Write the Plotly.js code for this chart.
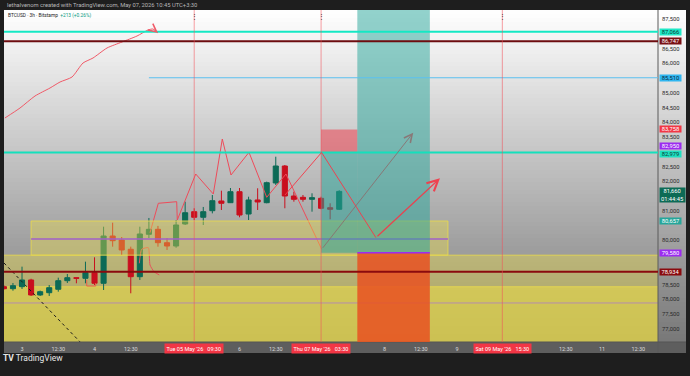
<!DOCTYPE html>
<html><head><meta charset="utf-8">
<script src="https://cdn.plot.ly/plotly-3.0.1.min.js"></script>
<style>html,body{margin:0;padding:0;background:#1e1e1e;}#chart{width:690px;height:376px;}</style>
</head><body><div id="chart"></div>
<script>
// ---------- candle data (BTCUSD 3h, Bitstamp) ----------
const candleTimes = [
 '2026-05-02 18:30','2026-05-02 21:30',
 '2026-05-03 00:30','2026-05-03 03:30','2026-05-03 06:30','2026-05-03 09:30','2026-05-03 12:30','2026-05-03 15:30','2026-05-03 18:30','2026-05-03 21:30',
 '2026-05-04 00:30','2026-05-04 03:30','2026-05-04 06:30','2026-05-04 09:30','2026-05-04 12:30','2026-05-04 15:30','2026-05-04 18:30','2026-05-04 21:30',
 '2026-05-05 00:30','2026-05-05 03:30','2026-05-05 06:30','2026-05-05 09:30','2026-05-05 12:30','2026-05-05 15:30','2026-05-05 18:30','2026-05-05 21:30',
 '2026-05-06 00:30','2026-05-06 03:30','2026-05-06 06:30','2026-05-06 09:30','2026-05-06 12:30','2026-05-06 15:30','2026-05-06 18:30','2026-05-06 21:30',
 '2026-05-07 00:30','2026-05-07 03:30','2026-05-07 06:30','2026-05-07 09:30'];
const openP  = [78432,78364, 78432,78659,78151,78228,78344,78635,78737,78716, 78906,78547,80149,80014,79699,78770,80207,80376, 79922,79810,80556,80972,80783,81006,81335,81277, 81650,80894,81369,81277,81945,82520,81504,81460, 81392,81426,81108,81054];
const highP  = [78480,78557, 79110,78700,78300,78489,78737,78862,78745,79279, 79427,80464,80600,80115,79787,80464,80760,80490, 80081,80691,81311,81088,81132,81538,81684,81775, 81775,81480,81765,81990,82835,82554,81650,81538, 81596,81480,81257,81700];
const lowP   = [78330,78296, 78354,78117,78117,78117,78262,78557,78547,78547, 78489,78320,79787,79505,78208,78659,80081,79787, 79675,79750,80522,80691,80522,80915,81030,81267, 80783,80691,81030,81257,81877,81088,81311,81311, 80972,81054,80715,81030];
const closeP = [78364,78466, 78659,78151,78262,78398,78635,78737,78716,78906, 78547,80149,79990,79675,78770,80217,80376,79922, 79810,80522,80938,80783,80972,81345,81257,81650, 80860,81369,81301,81955,82520,81504,81392,81392, 81447,81088,81054,81660];

// ---------- axes (only the tick labels that are visible in the reference) ----------
const priceTicks = [77000,77500,78000,78500,80000,81000,82000,82500,83500,84000,84500,85000,86000,86500,87500];
const priceTickText = ['77,000','77,500','78,000','78,500','80,000','81,000','82,000','82,500','83,500','84,000','84,500','85,000','86,000','86,500','87,500'];
const timeTicks = ['2026-05-03 00:30','2026-05-03 12:30','2026-05-04 00:30','2026-05-04 12:30','2026-05-06 00:30','2026-05-06 12:30','2026-05-08 00:30','2026-05-08 12:30','2026-05-09 00:30','2026-05-10 12:30','2026-05-11 00:30','2026-05-11 12:30'];
const timeTickText = ['3','12:30','4','12:30','6','12:30','8','12:30','9','12:30','11','12:30'];
const markerTimes = ['2026-05-05 09:30','2026-05-07 03:30','2026-05-09 15:30'];
const markerLabels = ["Tue 05 May '26&nbsp;&nbsp;&nbsp;09:30","Thu 07 May '26&nbsp;&nbsp;&nbsp;03:30","Sat 09 May '26&nbsp;&nbsp;&nbsp;15:30"];

// ---------- horizontal levels ----------
const levelPrices = [87066, 86747, 85510, 82979, 78934];
const levelStarts = ['2026-05-02 12:00','2026-05-02 12:00','2026-05-04 18:30','2026-05-02 12:00','2026-05-02 12:00'];
const levelColors = ['#14e8c4','#6e0d10','#5bc0f0','#14e0bc','#8a0a0e'];
const levelWidths = [2,2,1,2,2];

// price-axis labels
const axisLabelPrices = [87066, 86747, 85510, 83758, 82950, 82979, 81660, 80657, 79580, 78934];
const axisLabelTexts = ['87,066','86,747','85,510','83,758','82,950','82,979','81,660<br>01:44:45','80,657','79,580','78,934'];
const axisLabelBg = ['#1ee8c6','#7a1014','#2fb6f0','#f23645','#9c2bf0','#1ee0c0','#0d6b55','#26a69a','#9c2bf0','#8a0a0e'];
const axisLabelFg = ['#0b3b36','#ffffff','#0b2b3b','#ffffff','#ffffff','#0b3b36','#ffffff','#ffffff','#ffffff','#ffffff'];
const axisLabelShift = [0,0,0,0,7.5,-2,-3.5,0,0,0];

// zones
const zoneAStart = '2026-05-03 03:30', zoneAEnd = '2026-05-08 21:30';
const zoneATop = 80657, zoneAMid = 80050, zoneABottom = 79500;
const zoneBTop = 79500, zoneCTop = 78430, lowLine = 77880;

// position tools
const shortStart = '2026-05-07 03:30', shortEnd = '2026-05-07 15:30';
const shortEntry = 82979, shortStop = 83758, shortTarget = 79580;
const longStart = '2026-05-07 15:30', longEnd = '2026-05-08 15:30';
const longEntry = 79580, longTarget = 88500, longStop = 76000;

// drawings
const arcTimes = ['2026-05-02 18:50','2026-05-02 23:50','2026-05-03 04:48','2026-05-03 09:46','2026-05-03 13:05','2026-05-03 17:03','2026-05-03 20:41','2026-05-04 00:00','2026-05-04 04:38','2026-05-04 09:36','2026-05-04 14:34','2026-05-04 18:12','2026-05-04 19:52'];
const arcPrices = [84146,84485,84892,85163,85366,85535,86009,86179,86518,86721,86924,87127,87161];
const arcEndTime = '2026-05-04 21:31', arcEndPrice = 87026;

const zigTimes = ['2026-05-04 18:52','2026-05-04 21:37','2026-05-05 03:42','2026-05-05 03:54','2026-05-05 10:00','2026-05-05 15:49','2026-05-05 18:48','2026-05-05 21:41','2026-05-06 03:38','2026-05-06 09:30','2026-05-06 15:53','2026-05-07 03:42'];
const zigPrices = [80261,81257,81311,80691,82249,81572,83435,82215,82984,81460,82249,79699];
const zigEndTime = '2026-05-08 10:00', zigEndPrice = 83648;

const pathTimes = ['2026-05-06 15:33','2026-05-07 03:40','2026-05-07 21:40','2026-05-08 18:51'];
const pathPrices = [81538,82979,80092,82104];

const curlTimes = ['2026-05-04 15:20','2026-05-04 16:07','2026-05-04 18:19','2026-05-04 18:52','2026-05-04 20:12','2026-05-04 21:57'];
const curlPrices = [79224,79699,79753,79167,78940,78828];

const bracketTimes = ['2026-05-03 21:55','2026-05-03 21:55','2026-05-04 00:54','2026-05-04 00:54'];
const bracketPrices = [78659,78455,78455,78557];

const diagTimes = ['2026-05-02 18:32','2026-05-03 20:22'];
const diagPrices = [79234,76491];

// ---------- build ----------
const X0 = '2026-05-02 18:32', X1 = '2026-05-11 19:02';
const Y0 = 76558, Y1 = 87805;
const AX = 1 + 28/654; // price axis right edge in paper units
const RED = 'rgba(242,60,75,0.95)';

const shapes = [];
// background gradient (plot + price axis), overlapping strips to avoid seams
const N = 83;
for (let i = 0; i < N; i++) {
  const t = (i + 0.5) / N;
  const v = Math.round(255 - t * 135);
  shapes.push({type:'rect', xref:'paper', yref:'paper', x0:0, x1:AX, y0:Math.max(0, 1 - (i+1.6)/N), y1:1 - i/N,
    fillcolor:`rgb(${v},${v},${v})`, line:{width:0}, layer:'below'});
}
// time axis strip
shapes.push({type:'rect', xref:'paper', yref:'paper', x0:0, x1:AX, y0:-11/332, y1:0, fillcolor:'#5e5e5e', line:{width:0}, layer:'below'});
// separators
shapes.push({type:'line', xref:'paper', yref:'paper', x0:1, x1:1, y0:-11/332, y1:1, line:{color:'#5a5a5a', width:1}, layer:'above'});
shapes.push({type:'line', xref:'paper', yref:'paper', x0:0, x1:AX, y0:0, y1:0, line:{color:'#555', width:1}, layer:'above'});

// lower yellow zones (below candles)
shapes.push({type:'rect', xref:'x', yref:'y', x0:X0, x1:X1, y0:Y0 - 500, y1:zoneBTop, fillcolor:'rgba(235,220,70,0.40)', line:{width:0}, layer:'below'});
shapes.push({type:'rect', xref:'x', yref:'y', x0:X0, x1:X1, y0:Y0 - 500, y1:zoneCTop, fillcolor:'rgba(235,220,70,0.55)', line:{width:0}, layer:'below'});
shapes.push({type:'line', xref:'x', yref:'y', x0:X0, x1:X1, y0:zoneBTop, y1:zoneBTop, line:{color:'rgba(230,215,80,0.9)', width:1}, layer:'below'});
shapes.push({type:'line', xref:'x', yref:'y', x0:X0, x1:X1, y0:zoneCTop, y1:zoneCTop, line:{color:'rgba(230,215,80,0.9)', width:1}, layer:'below'});
shapes.push({type:'line', xref:'x', yref:'y', x0:X0, x1:X1, y0:lowLine, y1:lowLine, line:{color:'rgba(170,120,210,0.7)', width:1}, layer:'below'});

// zone A (above candles)
shapes.push({type:'rect', xref:'x', yref:'y', x0:zoneAStart, x1:zoneAEnd, y0:zoneABottom, y1:zoneATop, fillcolor:'rgba(235,220,70,0.40)', line:{color:'rgba(230,215,80,0.9)', width:1}, layer:'above'});
shapes.push({type:'line', xref:'x', yref:'y', x0:zoneAStart, x1:zoneAEnd, y0:zoneAMid, y1:zoneAMid, line:{color:'#a060c8', width:1.5}, layer:'above'});

// position tools
shapes.push({type:'rect', xref:'x', yref:'y', x0:shortStart, x1:shortEnd, y0:shortEntry, y1:shortStop, fillcolor:'rgba(242,54,69,0.5)', line:{width:0}, layer:'above'});
shapes.push({type:'rect', xref:'x', yref:'y', x0:shortStart, x1:shortEnd, y0:shortTarget, y1:shortEntry, fillcolor:'rgba(38,166,154,0.5)', line:{width:0}, layer:'above'});
shapes.push({type:'rect', xref:'x', yref:'y', x0:longStart, x1:longEnd, y0:longEntry, y1:longTarget, fillcolor:'rgba(38,166,154,0.5)', line:{width:0}, layer:'above'});
shapes.push({type:'rect', xref:'x', yref:'y', x0:longStart, x1:longEnd, y0:longStop, y1:longEntry, fillcolor:'rgba(232,82,34,0.86)', line:{width:0}, layer:'above'});
shapes.push({type:'line', xref:'x', yref:'y', x0:longStart, x1:longEnd, y0:longEntry, y1:longEntry, line:{color:'#9c2bf0', width:1.5}, layer:'above'});

// horizontal levels
levelPrices.forEach((p, i) => {
  shapes.push({type:'line', xref:'x', yref:'y', x0:levelStarts[i], x1:X1, y0:p, y1:p, line:{color:levelColors[i], width:levelWidths[i]}, layer:'above'});
});
// vertical time markers
markerTimes.forEach(t => {
  shapes.push({type:'line', xref:'x', yref:'paper', x0:t, x1:t, y0:0, y1:1, line:{color:'rgba(242,80,90,0.55)', width:1}, layer:'above'});
});
// second projected path (on top)
for (let i = 0; i < 2; i++) {
  shapes.push({type:'line', xref:'x', yref:'y', x0:pathTimes[i], x1:pathTimes[i+1], y0:pathPrices[i], y1:pathPrices[i+1], line:{color:RED, width:1}, layer:'above'});
}

const traces = [
  {type:'candlestick', x:candleTimes, open:openP, high:highP, low:lowP, close:closeP,
   increasing:{line:{color:'#0c6a56', width:1}, fillcolor:'#0c6a56'},
   decreasing:{line:{color:'#c90f1e', width:1}, fillcolor:'#c90f1e'},
   whiskerwidth:0, hoverinfo:'skip', showlegend:false},
  {type:'scatter', mode:'lines', x:arcTimes.concat([arcEndTime]), y:arcPrices.concat([arcEndPrice]), line:{color:'#f05a68', width:1, shape:'spline', smoothing:0.6}, hoverinfo:'skip'},
  {type:'scatter', mode:'lines', x:zigTimes, y:zigPrices, line:{color:'#ee4b5a', width:1}, hoverinfo:'skip'},
  {type:'scatter', mode:'lines', x:curlTimes, y:curlPrices, line:{color:'#e8505c', width:1, shape:'spline', smoothing:0.5}, hoverinfo:'skip'},
  {type:'scatter', mode:'lines', x:bracketTimes, y:bracketPrices, line:{color:'#e8604a', width:1}, hoverinfo:'skip'},
  {type:'scatter', mode:'lines', x:diagTimes, y:diagPrices, line:{color:'#1a1a1a', width:1, dash:'dot'}, hoverinfo:'skip'}
];

const F = 'Roboto, "Noto Sans", sans-serif';
const annotations = [];
// arrow heads / final segments
annotations.push({x:arcEndTime, y:arcEndPrice, ax:arcTimes[arcTimes.length-1], ay:arcPrices[arcPrices.length-1], xref:'x', yref:'y', axref:'x', ayref:'y', text:'', showarrow:true, arrowhead:5, arrowsize:1.6, arrowwidth:1, arrowcolor:'#f05a68', standoff:0});
annotations.push({x:zigEndTime, y:zigEndPrice, ax:zigTimes[zigTimes.length-1], ay:zigPrices[zigPrices.length-1], xref:'x', yref:'y', axref:'x', ayref:'y', text:'', showarrow:true, arrowhead:5, arrowsize:1.6, arrowwidth:1, arrowcolor:'rgba(140,110,110,0.85)', standoff:0});
annotations.push({x:pathTimes[3], y:pathPrices[3], ax:pathTimes[2], ay:pathPrices[2], xref:'x', yref:'y', axref:'x', ayref:'y', text:'', showarrow:true, arrowhead:5, arrowsize:1.8, arrowwidth:1.2, arrowcolor:RED, standoff:0});

// price axis labels
axisLabelPrices.forEach((p, i) => {
  annotations.push({x:1, xref:'paper', y:p, yref:'y', xanchor:'left', yanchor:'middle', xshift:1, yshift:axisLabelShift[i],
    text:axisLabelTexts[i], showarrow:false, bgcolor:axisLabelBg[i], borderpad:0, width: i === 6 ? 25 : 21, align:'center',
    font:{family:F, size:5.8, color:axisLabelFg[i]}});
});
// time markers on the time axis + small handles at the top of the vertical lines
markerTimes.forEach((t, i) => {
  annotations.push({x:t, xref:'x', y:0, yref:'paper', yanchor:'top', yshift:-1, text:markerLabels[i], showarrow:false,
    bgcolor:'#f23645', borderpad:1.5, font:{family:F, size:5.5, color:'#ffffff'}});
  annotations.push({x:t, xref:'x', y:1, yref:'paper', yanchor:'top', yshift:-1, text:'⋮', showarrow:false,
    font:{family:F, size:7, color:'#3a3a3a'}});
});
// header texts
annotations.push({x:0, xref:'paper', y:1, yref:'paper', xanchor:'left', yanchor:'middle', xshift:1, yshift:5,
  text:'lethalvenom created with TradingView.com, May 07, 2026 10:45 UTC+3:30', showarrow:false, font:{family:F, size:5.8, color:'#b8b8b8'}});
annotations.push({x:0, xref:'paper', y:1, yref:'paper', xanchor:'left', yanchor:'middle', xshift:2, yshift:-5,
  text:'BTCUSD · 3h · Bitstamp&nbsp;&nbsp;<span style="color:#089981">+213 (+0.26%)</span>', showarrow:false, font:{family:F, size:4.8, color:'#222'}});
annotations.push({x:0, xref:'paper', y:0, yref:'paper', xanchor:'left', yanchor:'middle', xshift:-3, yshift:-16,
  text:'<b>TV</b> TradingView', showarrow:false, font:{family:F, size:8.5, color:'#e6e6e6'}});

const layout = {
  width:690, height:376,
  margin:{l:4, r:32, t:10, b:34, pad:0},
  paper_bgcolor:'#1e1e1e', plot_bgcolor:'rgba(0,0,0,0)',
  showlegend:false, dragmode:false, boxgap:0.2,
  xaxis:{type:'date', range:[X0, X1], rangeslider:{visible:false}, showgrid:false, zeroline:false,
    tickmode:'array', tickvals:timeTicks, ticktext:timeTickText, ticks:'', ticklabelstandoff:2,
    tickfont:{family:F, size:5.5, color:'#dadada'}, showline:false, fixedrange:true},
  yaxis:{range:[Y0, Y1], side:'right', showgrid:false, zeroline:false, tickmode:'array', tickvals:priceTicks, ticktext:priceTickText,
    ticks:'', ticklabelstandoff:3, tickfont:{family:F, size:5.8, color:'#2a2a2a'}, showline:false, fixedrange:true},
  shapes:shapes, annotations:annotations
};
Plotly.newPlot('chart', traces, layout, {displayModeBar:false, staticPlot:true});
</script></body></html>
